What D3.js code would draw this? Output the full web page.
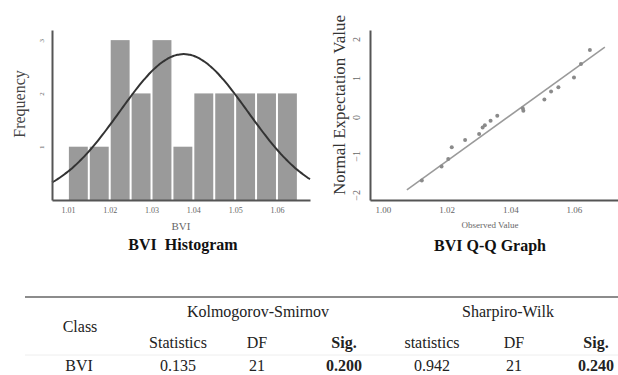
<!DOCTYPE html>
<html>
<head lang="en">
    <meta charset="utf-8">
    <title>BVI normality</title>
    <style type="text/css">
        body {
            margin: 0;
            background-color: #fff;
        }

        svg text {
            font-family: "Liberation Serif", "DejaVu Serif", serif;
        }

        .axis path.domain {
            stroke: #555;
            stroke-width: 2;
        }

        .axis text {
            fill: #666;
        }

        .cell {
            fill: #222;
            font-size: 16px;
        }
    </style>
</head>
<body>

<script src="https://d3js.org/d3.v7.min.js"></script>
<script type="text/javascript">
    // histogram data (bin start, count)
    var binStarts = [1.010, 1.015, 1.020, 1.025, 1.030, 1.035, 1.040, 1.045, 1.050, 1.055, 1.060];
    var binCounts = [1, 1, 3, 2, 3, 1, 2, 2, 2, 2, 2];
    var binWidth = 0.005;
    var histTicksX = [1.01, 1.02, 1.03, 1.04, 1.05, 1.06];
    var histTicksY = [1, 2, 3];
    var sampleN = 21, sampleMean = 1.0377, sampleSd = 0.0153;

    // Q-Q data
    var qqObserved = [1.0122, 1.0184, 1.0205, 1.0216, 1.0258, 1.0302, 1.0313, 1.0320, 1.0338, 1.0359,
        1.0439, 1.0441, 1.0507, 1.0528, 1.0551, 1.0600, 1.0622, 1.0650];
    var qqExpected = [-1.63, -1.27, -1.08, -0.78, -0.59, -0.44, -0.27, -0.21, -0.10, 0.03,
        0.22, 0.16, 0.45, 0.65, 0.76, 1.01, 1.36, 1.72];
    var qqLineX = [1.0075, 1.0697];
    var qqLineY = [-1.87, 1.79];
    var qqTicksX = [1.00, 1.02, 1.04, 1.06];
    var qqTicksY = [-2, -1, 0, 1, 2];

    // table
    var groupHeads = ["Kolmogorov-Smirnov", "Sharpiro-Wilk"];
    var colHeads = ["Statistics", "DF", "Sig.", "statistics", "DF", "Sig."];
    var rowClass = ["BVI"];
    var rowValues = [["0.135", "21", "0.200", "0.942", "21", "0.240"]];
    var boldCols = [2, 5];

    var svg = d3.select("body")
        .append("svg")
        .attr("width", 618)
        .attr("height", 375);

    // ---------- histogram ----------
    var xh = d3.scaleLinear().domain([1.0062, 1.0679]).range([52, 310]);
    var yh = d3.scaleLinear().domain([0, 3.19]).range([200, 30]);

    svg.selectAll("rect.bar")
        .data(binCounts)
        .enter()
        .append("rect")
        .attr("class", "bar")
        .attr("x", function (d, i) { return xh(binStarts[i]) + 1; })
        .attr("width", function (d, i) { return xh(binStarts[i] + binWidth) - xh(binStarts[i]) - 2; })
        .attr("y", function (d) { return yh(d); })
        .attr("height", function (d) { return yh(0) - yh(d); })
        .attr("fill", "#9a9a9a");

    // normal curve scaled to counts
    var curveX = d3.range(xh.domain()[0], xh.domain()[1], 0.0005).concat([xh.domain()[1]]);
    var normalCount = function (v) {
        var z = (v - sampleMean) / sampleSd;
        return sampleN * binWidth * Math.exp(-0.5 * z * z) / (sampleSd * Math.sqrt(2 * Math.PI));
    };
    svg.append("path")
        .datum(curveX)
        .attr("fill", "none")
        .attr("stroke", "#333")
        .attr("stroke-width", 2)
        .attr("d", d3.line()
            .x(function (d) { return xh(d); })
            .y(function (d) { return yh(normalCount(d)); })
            .curve(d3.curveBasis));

    var gxh = svg.append("g")
        .attr("class", "axis")
        .attr("transform", "translate(0,200)")
        .call(d3.axisBottom(xh).tickValues(histTicksX).tickFormat(d3.format(".2f")).tickSize(0).tickPadding(7));
    gxh.selectAll("text").style("font-size", "8px");

    var gyh = svg.append("g")
        .attr("class", "axis")
        .attr("transform", "translate(52,0)")
        .call(d3.axisLeft(yh).tickValues(histTicksY).tickFormat(d3.format("d")).tickSize(0));
    gyh.selectAll("text")
        .attr("x", 0).attr("y", -8.5).attr("dy", 0)
        .attr("transform", "rotate(-90)")
        .attr("text-anchor", "middle")
        .style("font-size", "7px");

    svg.append("text")
        .attr("transform", "translate(25,104) rotate(-90)")
        .attr("text-anchor", "middle")
        .style("font-size", "16px")
        .style("fill", "#444")
        .text("Frequency");

    svg.append("text")
        .attr("x", 181).attr("y", 230)
        .attr("text-anchor", "middle")
        .style("font-size", "11px")
        .style("fill", "#666")
        .text("BVI");

    svg.append("text")
        .attr("x", 183).attr("y", 250)
        .attr("text-anchor", "middle")
        .style("font-size", "16px")
        .style("font-weight", "bold")
        .style("fill", "#111")
        .style("white-space", "pre")
        .text("BVI  Histogram");

    // ---------- Q-Q graph ----------
    var xq = d3.scaleLinear().domain([0.99592, 1.07383]).range([370, 618]);
    var yq = d3.scaleLinear().domain([-2.13, 2.23]).range([200, 30]);

    svg.append("line")
        .attr("x1", xq(qqLineX[0])).attr("y1", yq(qqLineY[0]))
        .attr("x2", xq(qqLineX[1])).attr("y2", yq(qqLineY[1]))
        .attr("stroke", "#9a9a9a")
        .attr("stroke-width", 1.5);

    svg.selectAll("circle.pt")
        .data(qqObserved)
        .enter()
        .append("circle")
        .attr("class", "pt")
        .attr("cx", function (d) { return xq(d); })
        .attr("cy", function (d, i) { return yq(qqExpected[i]); })
        .attr("r", 2)
        .attr("fill", "#8a8a8a");

    var gxq = svg.append("g")
        .attr("class", "axis")
        .attr("transform", "translate(0,200)")
        .call(d3.axisBottom(xq).tickValues(qqTicksX).tickFormat(d3.format(".2f")).tickSize(0).tickPadding(7));
    gxq.selectAll("text").style("font-size", "9px");

    var gyq = svg.append("g")
        .attr("class", "axis")
        .attr("transform", "translate(370,0)")
        .call(d3.axisLeft(yq).tickValues(qqTicksY).tickFormat(d3.format("d")).tickSize(0));
    gyq.selectAll("text")
        .attr("x", 0).attr("y", -10).attr("dy", 0)
        .attr("transform", "rotate(-90)")
        .attr("text-anchor", "middle")
        .style("font-size", "10px");

    svg.append("text")
        .attr("transform", "translate(345,105) rotate(-90)")
        .attr("text-anchor", "middle")
        .style("font-size", "17px")
        .style("fill", "#333")
        .text("Normal Expectation Value");

    svg.append("text")
        .attr("x", 490).attr("y", 228)
        .attr("text-anchor", "middle")
        .style("font-size", "9px")
        .style("fill", "#666")
        .text("Observed Value");

    svg.append("text")
        .attr("x", 490).attr("y", 251)
        .attr("text-anchor", "middle")
        .style("font-size", "16px")
        .style("font-weight", "bold")
        .style("fill", "#111")
        .text("BVI Q-Q Graph");

    // ---------- table ----------
    var colX = [178, 257, 344, 432, 514, 596];
    var groupX = [258, 508];

    svg.append("line")
        .attr("x1", 25).attr("x2", 618)
        .attr("y1", 297).attr("y2", 297)
        .attr("stroke", "#666")
        .attr("stroke-width", 1.5);

    svg.append("line")
        .attr("x1", 25).attr("x2", 618)
        .attr("y1", 355).attr("y2", 355)
        .attr("stroke", "#eee")
        .attr("stroke-width", 1);

    svg.selectAll("text.group")
        .data(groupHeads)
        .enter()
        .append("text")
        .attr("class", "cell group")
        .attr("x", function (d, i) { return groupX[i]; })
        .attr("y", 317)
        .attr("text-anchor", "middle")
        .text(function (d) { return d; });

    svg.append("text")
        .attr("class", "cell")
        .attr("x", 80).attr("y", 332)
        .attr("text-anchor", "middle")
        .text("Class");

    svg.selectAll("text.colhead")
        .data(colHeads)
        .enter()
        .append("text")
        .attr("class", "cell colhead")
        .attr("x", function (d, i) { return colX[i]; })
        .attr("y", 348)
        .attr("text-anchor", "middle")
        .style("font-weight", function (d, i) { return boldCols.indexOf(i) >= 0 ? "bold" : "normal"; })
        .text(function (d) { return d; });

    rowValues.forEach(function (row, r) {
        svg.append("text")
            .attr("class", "cell")
            .attr("x", 79).attr("y", 371)
            .attr("text-anchor", "middle")
            .text(rowClass[r]);

        svg.selectAll("text.val" + r)
            .data(row)
            .enter()
            .append("text")
            .attr("class", "cell val" + r)
            .attr("x", function (d, i) { return colX[i]; })
            .attr("y", 371)
            .attr("text-anchor", "middle")
            .style("font-weight", function (d, i) { return boldCols.indexOf(i) >= 0 ? "bold" : "normal"; })
            .text(function (d) { return d; });
    });
</script>
</body>
</html>
